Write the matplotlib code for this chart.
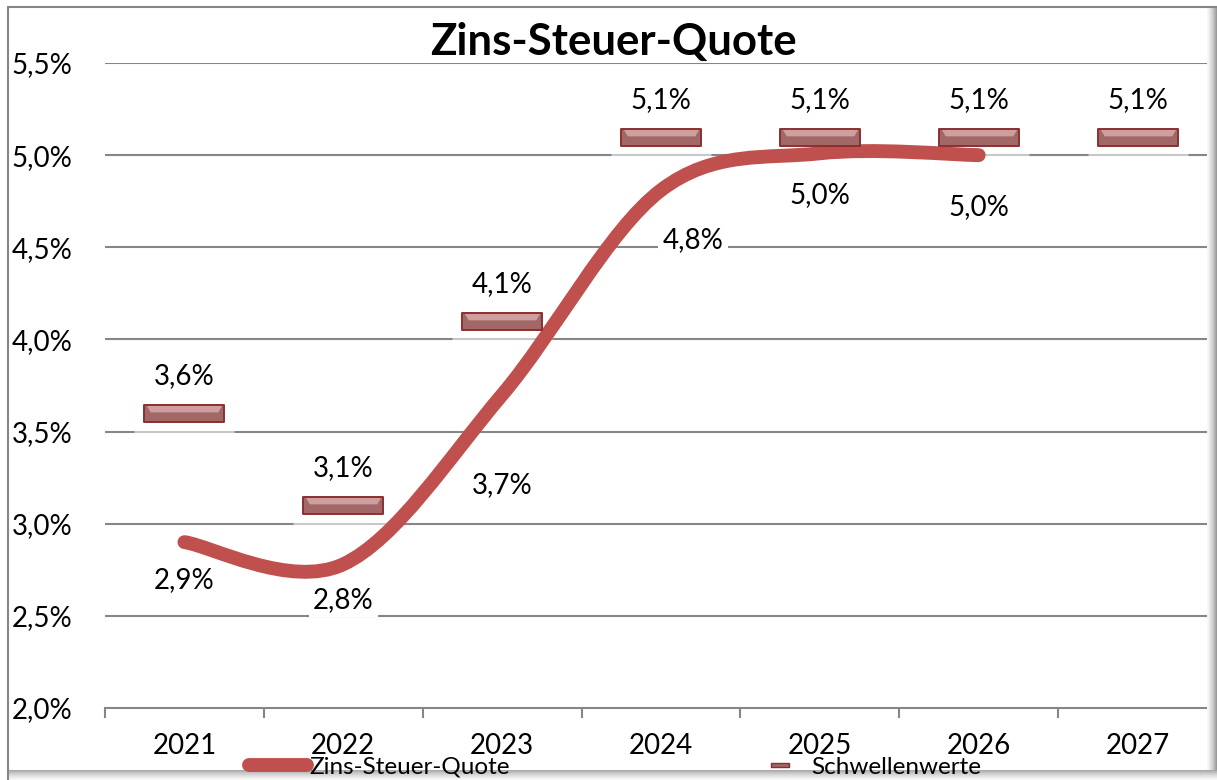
import numpy as np
import matplotlib
matplotlib.use('Agg')
from matplotlib import pyplot as plt
from matplotlib.path import Path
from matplotlib.patches import PathPatch, Rectangle
from matplotlib.lines import Line2D
from matplotlib import transforms

# data
years = ['2021', '2022', '2023', '2024', '2025', '2026', '2027']
quote = [2.90, 2.78, 3.70, 4.81, 5.01, 5.00]          # Zins-Steuer-Quote (2021-2026)
quote_labels = ['2,9%', '2,8%', '3,7%', '4,8%', '5,0%', '5,0%']
schwelle = [3.6, 3.1, 4.1, 5.1, 5.1, 5.1, 5.1]        # Schwellenwerte
schwelle_labels = ['3,6%', '3,1%', '4,1%', '5,1%', '5,1%', '5,1%', '5,1%']
yticks = [2.0, 2.5, 3.0, 3.5, 4.0, 4.5, 5.0, 5.5]
ytick_labels = ['2,0%', '2,5%', '3,0%', '3,5%', '4,0%', '4,5%', '5,0%', '5,5%']

RED = '#C0504D'
GRID = '#868686'
FS = 20
plt.rcParams['font.family'] = ['Lato', 'DejaVu Sans']

W, H = 1217, 780
fig = plt.figure(figsize=(W / 100, H / 100), dpi=100)
ax = fig.add_axes([105 / W, 1 - 708 / H, 1 - 105 / W, (708 - 63) / H])
ax.set_xlim(-0.5, 6.5)
ax.set_ylim(2.0, 5.5)

# gridlines
for v in yticks[1:]:
    ax.axhline(v, color=GRID, lw=1.5, zorder=1)

for s in ['left', 'right', 'top']:
    ax.spines[s].set_visible(False)
ax.spines['bottom'].set_color(GRID)
ax.spines['bottom'].set_linewidth(1.5)

ax.set_xticks(range(len(years)))
ax.set_xticklabels(years, fontsize=FS)
ax.set_xticks(np.arange(-0.5, 7, 1), minor=True)
ax.tick_params(axis='x', which='major', length=0, pad=18)
ax.tick_params(axis='x', which='minor', length=7, width=1.5, color=GRID)

ax.set_yticks(yticks)
ax.set_yticklabels(ytick_labels, fontsize=FS, ha='left')
ax.tick_params(axis='y', length=0, pad=67)

# smoothed line (Catmull-Rom bezier through the data points)
pts = np.column_stack([np.arange(len(quote)), quote])
n = len(pts)
verts = [pts[0]]
codes = [Path.MOVETO]
for i in range(n - 1):
    p0 = pts[max(i - 1, 0)]
    p1 = pts[i]
    p2 = pts[i + 1]
    p3 = pts[min(i + 2, n - 1)]
    verts += [p1 + (p2 - p0) / 6, p2 - (p3 - p1) / 6, p2]
    codes += [Path.CURVE4] * 3
ax.add_patch(PathPatch(Path(verts, codes), fill=False, edgecolor=RED, lw=10,
                       capstyle='round', joinstyle='round', zorder=3))

# threshold markers
xs = np.arange(len(schwelle))
body = Path([(-1, -0.2125), (1, -0.2125), (1, 0.2125), (-1, 0.2125), (-1, -0.2125)],
            [Path.MOVETO, Path.LINETO, Path.LINETO, Path.LINETO, Path.CLOSEPOLY])
bevel = Path([(-1, 0.2), (1, 0.2), (0.9, 0.03), (-0.9, 0.03), (-1, 0.2)],
             [Path.MOVETO, Path.LINETO, Path.LINETO, Path.LINETO, Path.CLOSEPOLY])
refl = Path([(-1, -0.06), (1, -0.06), (1, 0.06), (-1, 0.06), (-1, -0.06)],
            [Path.MOVETO, Path.LINETO, Path.LINETO, Path.LINETO, Path.CLOSEPOLY])
shadow_tr = transforms.offset_copy(ax.transData, fig=fig, x=0, y=-18, units='dots')
ax.plot(xs, schwelle, ls='none', marker=refl, ms=72, mfc='white', mec='none',
        alpha=0.55, transform=shadow_tr, zorder=2)
ax.plot(xs, schwelle, ls='none', marker=body, ms=57.6, mfc='#A26868', mec='#8C2F2F',
        mew=1.4, zorder=4)
ax.plot(xs, schwelle, ls='none', marker=bevel, ms=54, mfc='#D8A8A8', mec='none',
        alpha=0.85, zorder=5)

# data labels
for x, v, t in zip(xs, schwelle, schwelle_labels):
    ax.annotate(t, (x, v), xytext=(0, 37), textcoords='offset pixels',
                ha='center', va='center', fontsize=FS, zorder=6)

q_offsets = [(0, -38), (0, -36), (0, -90), (32, -50), (0, -42), (0, -52)]
for x, v, t, off in zip(range(len(quote)), quote, quote_labels, q_offsets):
    ax.annotate(t, (x, v), xytext=off, textcoords='offset pixels',
                ha='center', va='center', fontsize=FS, zorder=6,
                bbox=dict(boxstyle='square,pad=0.15', fc='white', ec='none'))

# title
fig.text(613 / W, 1 - 42 / H, 'Zins-Steuer-Quote', ha='center', va='center',
         fontsize=31.5, fontweight='bold')

# legend
handles = [Line2D([], [], color=RED, lw=10, solid_capstyle='round'),
           Line2D([], [], ls='none', marker=body, ms=13, mfc='#A26868',
                  mec='#8C2F2F', mew=1)]
fig.legend(handles, ['Zins-Steuer-Quote', 'Schwellenwerte'], ncol=2,
           loc='center', bbox_to_anchor=(615 / W, 1 - 767 / H), frameon=False,
           fontsize=17.5, handlelength=2.4, handletextpad=0.08, columnspacing=9.9,
           borderpad=0, borderaxespad=0)

# chart frame with shadow
fig.patches.append(Rectangle((8 / W, -0.1), 1.2, 1 - 7 / H + 0.1,
                             transform=fig.transFigure, fill=False,
                             ec=GRID, lw=1.5, zorder=0))
gr = fig.add_axes([1207 / W, 0, 10 / W, 1 - 7 / H])
gr.imshow(np.linspace(0.05, 0.5, 20)[None, :], cmap='Greys', aspect='auto',
          vmin=0, vmax=1)
gr.axis('off')
gb = fig.add_axes([8 / W, 0, 1 - 8 / W, 10 / H])
gb.imshow(np.linspace(0.45, 0.05, 20)[:, None], cmap='Greys', aspect='auto',
          vmin=0, vmax=1)
gb.axis('off')

plt.savefig('out.png', dpi=100)
